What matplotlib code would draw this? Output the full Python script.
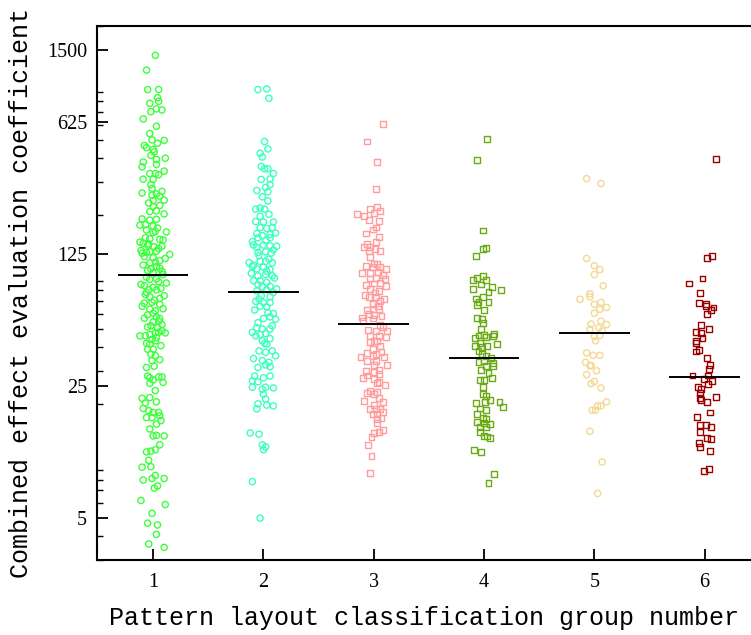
import numpy as np
import matplotlib.pyplot as plt

## Datos (valor del coeficiente y desplazamiento horizontal de cada punto)
g1_vals = [1400, 1170, 923, 923, 835, 800, 780, 730, 720, 705,
           645, 590, 540, 500, 497, 467, 455, 480, 445, 432,
           414, 394, 400, 382, 360, 371, 342, 332, 332, 327,
           310, 309, 290, 277, 267, 262, 255, 259, 252, 239,
           240, 232, 222, 225, 209, 211, 203, 191, 188, 190,
           177, 178, 175, 171, 167, 162, 164, 163, 152, 150,
           149, 144, 142, 141, 136, 137, 130, 127, 128, 129,
           124, 121, 119, 115, 112, 107, 104, 101, 99, 91.6,
           92, 87.5, 84.7, 83, 80.5, 80.5, 76, 74, 72.5,
           68.5, 69.2, 67.5, 63.6, 62.3, 59.4,
           60.6, 58, 56.8, 54.5, 52.8, 51.2, 50.8, 46, 46, 46.7,
           47.7, 48, 47.7, 44.1, 43.3, 41.6, 40.8, 39.1, 39.1, 36.8,
           36.1, 34.4, 34, 31.3, 31.8, 28.2, 27.6, 27.9, 27.9, 26.9,
           26.1, 25.8, 23.6, 21.5, 21.7, 20.3, 20.6, 19, 18.5, 18.1,
           18.1, 17.4, 17.0, 17.0, 16.4, 15.7, 14.8, 13.6, 13.7, 13.6,
           12.2, 11.5, 11.2, 11.3, 10.1, 9.3, 9.35, 7.95, 8.1, 8.4,
           8.1, 7.2, 7.4, 6.2, 5.9, 5.3, 4.7, 4.6, 4.1, 3.65, 3.5,
           148, 139, 133, 126, 118, 113, 109, 105, 102, 97,
           94, 89, 86, 82, 78, 75, 71, 66, 64, 57,
           55, 52, 49, 45, 42]
g1_jit = [.02, -.06, -.05, .05, .04, .05, -.03, .03, .08, -.02,
          -.09, .03, -.03, -.01, .10, -.08, -.06, .04, 0, .01,
          -.02, .03, .11, -.09, -.10, .03, .10, -.03, .02, .05,
          -.09, 0, -.02, -.01, .08, -.10, -.01, .03, .06, 0,
          .10, -.04, 0, .06, -.03, .03, .10, -.10, -.03, .03,
          -.12, -.07, 0, .04, -.06, 0, .02, .12, -.07, -.03,
          .06, -.12, -.09, -.04, .01, .08, -.11, -.06, -.03, .03,
          .15, -.08, 0, .06, -.03, .03, -.02, .08, 0, -.03,
          .03, .12, -.08, 0, -.04, .03, -.07, -.03, .06,
          -.08, -.01, .06, -.03, .02, -.05,
          0, .03, .06, 0, .08, -.05, .04, -.12, -.07, -.03,
          .02, .05, .11, -.01, .02, -.03, .07, -.05, 0, -.02,
          .02, .06, -.01, -.06, .01, -.05, -.03, .05, .08, 0,
          .09, -.03, .02, -.10, -.03, -.07, .03, -.09, -.04, 0,
          .05, .06, -.06, -.01, .07, .03, -.03, 0, .03, .10,
          .06, .02, -.06, -.02, -.04, -.10, -.02, -.09, -.01, .02,
          .10, .01, .04, -.11, .11, -.01, -.05, .04, .03, -.04, .10,
          .09, -.05, .05, -.10, .11, .02, -.09, .06, -.05, .09,
          -.06, .05, -.11, .07, -.06, .10, .01, -.10, .09, -.08,
          .05, -.02, .08, .03, -.06]

g2_vals = [923, 930, 830, 490, 448, 425, 406, 362, 352, 352,
           332, 311, 309, 290, 280, 270, 266, 250, 238, 215,
           218, 215, 202, 197, 185, 184, 184, 172, 170, 172,
           160, 156, 158, 161, 152, 147, 152, 139, 135, 139,
           138, 137, 127, 128, 126, 112, 109, 114, 114, 112,
           104, 106, 103, 98.5, 95.5, 97, 95.5, 90, 90, 88,
           83.5, 84, 81.5, 79.5, 80.5, 75, 74, 70, 69, 69,
           66, 65.5,
           60.3, 58, 56.8, 56.3, 50.8, 50, 50, 46, 46.7, 47.3,
           44.5, 43.3, 41.6, 38.3, 37.6, 38.3, 36.1, 34.9, 34, 33.3,
           32.3, 31.3, 31.6, 28.2, 27.6, 28.2, 26.6, 26.3, 24.6, 24,
           24.6, 24.4, 22.6, 21.3, 20.1, 18.9, 19.8, 19.6, 14.1, 13.9,
           12.2, 11.9, 11.5, 7.8, 5.0,
           145, 131, 122, 117, 107, 101, 93, 86, 78, 72,
           63, 61, 54, 52, 48, 42]
g2_jit = [-.05, .03, .05, .01, .04, -.03, -.01, -.02, .01, .04,
          .09, .06, -.02, .06, .02, -.06, .04, -.01, .04, -.07,
          -.03, .01, .05, -.03, -.07, 0, .09, -.03, .03, .08,
          -.06, -.01, .06, .11, -.05, .02, .06, -.09, -.06, 0,
          .06, .12, -.05, .02, .07, -.13, -.09, -.03, .02, .08,
          -.06, 0, .06, -.11, -.05, .02, .08, -.09, -.03, .03,
          -.01, .06, .12, -.06, .03, -.02, .06, -.07, 0, .06,
          -.03, .03,
          .09, .06, 0, .11, -.06, -.01, .06, -.07, -.03, .02,
          .06, -.01, .03, -.04, .02, .08, .11, -.09, -.01, .05,
          .02, -.05, .06, -.08, 0, .06, -.10, -.05, -.10, -.01,
          .02, .09, 0, .02, -.05, -.06, .03, .09, -.12, -.04,
          -.01, .02, 0, -.10, -.03,
          -.10, .09, -.04, .05, -.10, .03, .10, -.05, .09, -.04,
          -.08, .04, -.05, .08, -.10, .01]

g3_vals = [605, 490, 382, 274, 222, 215, 210, 205, 202, 197,
           188, 187, 172, 168, 160, 153, 141, 136, 136, 144,
           133, 129, 129, 120, 111, 110, 108, 106, 106, 104,
           98.5, 98.5, 96, 93.5, 92.5, 91.6, 88, 87, 84, 81.5,
           79.5, 78, 74, 74, 70, 67.5, 62.8, 63.6, 63.6, 57.5,
           60.3, 58.6,
           56.8, 52.5, 49.5, 48.8, 48.8, 46, 45.7, 45.3, 43.3, 43.3,
           42.8, 40.8, 39.1, 37.6, 37.2, 36.8, 35.5, 35.8, 35.5, 34,
           33.7, 32.3, 32.1, 30.4, 30.1, 29.5, 29, 28.4, 27.6, 27.1,
           26.3, 25.9, 25.2, 23.6, 22.9, 23.3, 22.6, 21.5, 20.9, 20.6,
           19.8, 18.8, 18.8, 18.8, 18.3, 17.8, 17.8, 17, 16.8, 15.9,
           14.6, 14.3, 14.1, 13.4, 12.2, 10.7, 8.7,
           100, 85, 76, 72, 66, 59, 55, 51]
g3_jit = [.08, -.06, .03, .02, .03, -.03, .06, 0, -.15, -.09,
          -.04, .05, .02, -.01, -.07, .05, -.06, -.09, -.03, .02,
          .01, .06, -.04, -.03, 0, .03, -.07, -.01, .06, .11,
          -.11, -.03, .08, .02, -.03, .10, .06, 0, .11, -.03,
          .05, .01, -.04, .02, .06, -.01, -.06, -.01, .05, -.11,
          -.04, .07,
          -.01, .06, -.05, .02, .12, .05, -.03, .11, 0, .03,
          -.03, .06, -.01, .07, -.06, .02, -.12, -.01, .09, -.06,
          .02, .12, 0, .05, -.07, 0, .05, -.06, -.10, 0,
          .05, .03, .10, -.03, -.06, .03, 0, .05, -.09, .08,
          0, -.03, .02, .06, .08, -.01, .03, .07, .03, .03,
          .08, .05, 0, -.02, -.05, -.02, -.03,
          .04, -.07, -.08, .09, .04, 0, -.10, .08]

g4_vals = [506, 390, 166, 133, 134, 121, 90.5, 93.5, 95.5, 90.5,
           86, 83, 81, 78.5, 80.5, 72.5, 73.5, 69.5, 69.5, 67,
           62.8, 57.2, 56.4, 53.8, 50.2, 47.3, 46.2, 46.7, 44.6, 45.3,
           46, 42.3, 41.6, 40.5, 40.3, 40.8, 38.3, 36.8, 36.1, 35.2,
           33.3, 33.7, 33, 31.8, 31.8, 30.3, 29.3, 26.8, 26.8, 27.4,
           24.6, 22.6, 22.2, 21.1, 20.3, 20.6, 20.6, 19.4, 19, 18.6,
           17.8, 17, 16.7, 16.1, 15.9, 15.7, 15.2, 15.1, 14.2, 13.6,
           13.5, 13.2, 11.4, 11.2, 8.6, 7.7]
g4_jit = [.03, -.06, -.01, -.01, .02, -.07, -.10, -.06, -.01, .02,
          -.03, .07, -.10, .04, .15, -.07, -.01, -.05, .04, -.06,
          0, -.06, -.02, -.01, -.03, .09, -.05, 0, -.08, .02,
          .08, -.04, .12, -.08, -.02, .03, -.05, -.02, .02, .06,
          -.05, 0, .08, .02, .08, -.03, .04, -.04, 0, .07,
          -.01, -.01, .02, .05, -.07, .01, .14, .17, -.04, .02,
          -.06, -.01, .02, -.06, 0, .05, -.04, .02, -.04, 0,
          .03, .05, -.09, -.03, .09, .04]

g5_vals = [312, 294, 118, 108, 103, 97, 84.7, 76.7, 71.8, 74,
           67.5, 69.2, 65, 63.6, 60.6, 55, 53.1, 52.8, 50.8, 49.8,
           48.9, 45.7, 46.2, 43.3, 37.4, 36.3, 36.3, 33.3, 31.9, 32.1,
           30.1, 28.7, 26.4, 25.7, 24.4, 20.6, 19.6, 19.6, 18.6, 18.6,
           14.4, 9.9, 6.75]
g5_jit = [-.07, .06, -.07, 0, .05, 0, .08, -.04, -.13, -.04,
          0, .06, .11, .05, 0, .06, -.03, .11, .04, -.04,
          .07, 0, .05, .01, -.07, -.01, .05, -.08, -.04, -.03,
          .02, -.07, 0, -.03, .06, .11, .06, .03, -.02, .01,
          -.04, .07, .03]

g6_vals = [397, 122, 119, 92.5, 87, 77.5, 68.7, 68, 66.2, 65,
           63.3, 59.9, 52.4, 50.2, 48, 47.4, 44.8, 43.4, 42.3, 38.8,
           38, 35.2, 32.3, 30.6, 28.4, 28.4, 27.1, 26.6, 25.5, 24.6,
           24, 23, 21.7, 21, 20.6, 21.8, 18.1, 17.2, 15.6, 15.6,
           15.1, 14.2, 13.3, 13.1, 12.5, 11.9, 11.3, 8.9, 9.1]
g6_jit = [.10, .07, .02, -.02, -.14, -.04, -.05, .01, .01, .08,
          .06, .02, -.03, .04, -.08, -.03, -.02, -.08, -.08, -.05,
          -.08, .02, .05, .04, -.11, .03, -.01, .07, .03, -.06,
          -.03, -.04, -.04, -.03, .02, .10, .05, -.07, -.04, .01,
          .06, -.04, .02, .06, -.05, -.04, .05, -.01, .04]

grupos = [1, 2, 3, 4, 5, 6]
medianas = [96, 78, 53, 35, 47.5, 28]
valores = [g1_vals, g2_vals, g3_vals, g4_vals, g5_vals, g6_vals]
jitter = [g1_jit, g2_jit, g3_jit, g4_jit, g5_jit, g6_jit]
colores = ['#3cff3c', '#3cffc0', '#ff9c9c', '#6aaa14', '#f5d894', '#990000']
marcadores = ['o', 'o', 's', 's', 'o', 's']

## Grafica
fig = plt.figure(figsize=(7.51, 6.35), dpi=100)
ax = fig.add_axes([0.129, 0.118, 0.871, 0.841])

for g, v, j, c, m, med in zip(grupos, valores, jitter, colores, marcadores, medianas):
    x = g + np.array(j)
    ax.scatter(x, v, s=20 if m == 'o' else 18, marker=m, facecolors='none',
               edgecolors=c, linewidths=1.0, zorder=2)
    ax.hlines(med, g - 0.32, g + 0.32, color='black', lw=1.4, zorder=3)

ax.set_yscale('log')
ax.set_ylim(3.0, 2000)
ax.set_xlim(0.49, 6.42)
ax.set_yticks([5, 25, 125, 625, 1500])
ax.set_yticklabels(['5', '25', '125', '625', '1500'])
ax.set_xticks(grupos)
ax.set_xticklabels([str(g) for g in grupos])

for lab in ax.get_yticklabels() + ax.get_xticklabels():
    lab.set_family('Liberation Serif')
    lab.set_fontsize(14.5)

ax.tick_params(axis='both', which='major', direction='in', length=8, width=1.3, pad=7)
ax.tick_params(axis='y', which='minor', direction='in', length=4, width=1.0)
ax.tick_params(axis='x', which='major', pad=9)
ax.spines['right'].set_visible(False)
for s in ['left', 'bottom', 'top']:
    ax.spines[s].set_linewidth(1.5)

ax.set_ylabel('Combined effect evaluation coefficient', family='Liberation Mono', fontsize=18)
ax.set_xlabel('Pattern layout classification group number', family='Liberation Mono', fontsize=18)
ax.yaxis.set_label_coords(-0.098, 0.5)
ax.xaxis.set_label_coords(0.5, -0.086)

fig.savefig('out.png', dpi=100)
